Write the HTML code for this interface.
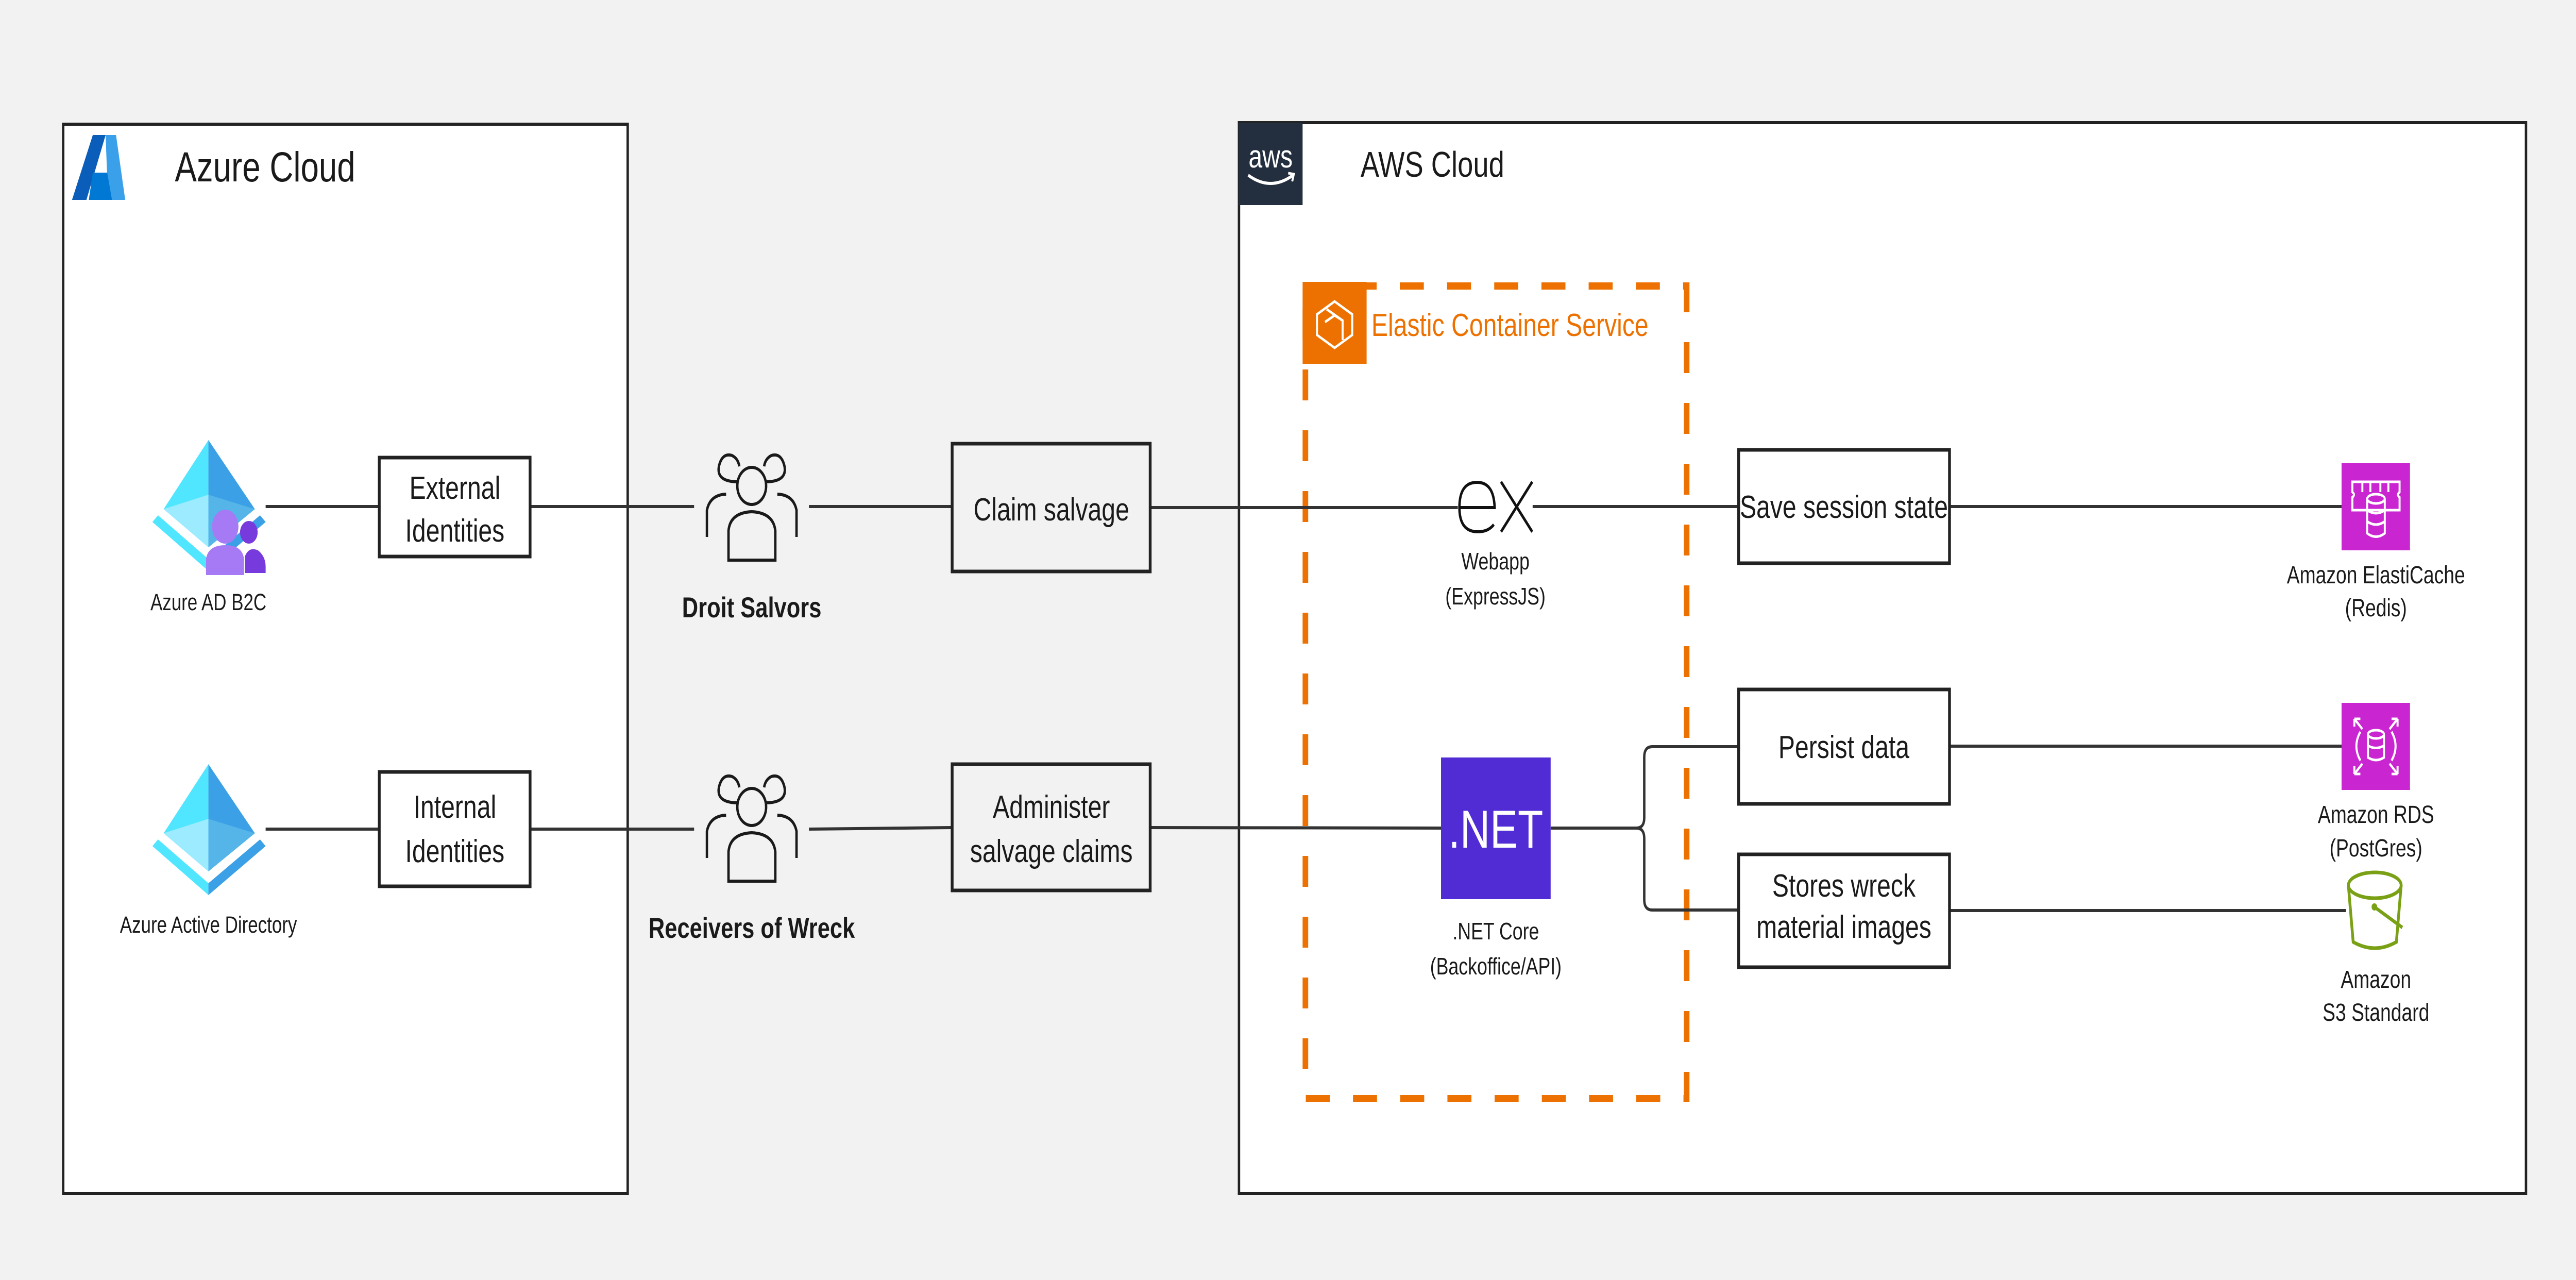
<!DOCTYPE html>
<html><head><meta charset="utf-8"><style>html,body{margin:0;padding:0;background:#f2f2f2;overflow:hidden;width:100%;height:100%}svg{display:block;position:absolute;left:0;top:0;width:100vw;height:100vh}text{font-family:"Liberation Sans",sans-serif;fill:#1a1a1a}</style></head><body>
<svg viewBox="0 0 6439 2484" preserveAspectRatio="none" xmlns="http://www.w3.org/2000/svg">
<rect width="6439" height="2484" fill="#f2f2f2"/>
<!-- Azure container -->
<rect x="158" y="241" width="1411" height="2075" fill="#fff" stroke="#222" stroke-width="6"/>
<polygon points="232,262 264,262 216,388 180,388" fill="#0a5db8"/>
<polygon points="264,262 290,262 313,388 270,388" fill="#3aa0ea"/>
<polygon points="232,335 268,335 280,388 222,388" fill="#0078d4"/>
<text x="437" y="352" font-size="82">Azure Cloud</text>
<!-- AWS container -->
<rect x="3097" y="238" width="3217" height="2078" fill="#fff" stroke="#222" stroke-width="6"/>
<rect x="3096" y="238" width="160" height="160" fill="#232f3e"/>
<text x="3176" y="325" font-size="62" text-anchor="middle" style="fill:#fff">aws</text>
<path d="M3120 340 Q3176 372 3232 340" stroke="#fff" stroke-width="6" fill="none"/>
<path d="M3220 336 L3234 338 L3230 352" stroke="#fff" stroke-width="5" fill="none"/>
<text x="3401" y="343" font-size="70">AWS Cloud</text>
<!-- ECS -->
<rect x="3263" y="555" width="953" height="1577" fill="none" stroke="#ED7100" stroke-width="14" stroke-dasharray="60 58"/>
<rect x="3256" y="547" width="160" height="159" fill="#ED7100"/>
<g stroke="#fff" stroke-width="5" fill="none"><polygon points="3336,585 3380,610 3380,650 3336,675 3292,650 3292,610"/><polyline points="3316,600 3356,622 3356,660"/><polyline points="3312,625 3336,612 3356,622"/></g>
<text x="3428" y="652" font-size="62" style="fill:#ED7100">Elastic Container Service</text>
<!-- connectors -->
<g stroke="#333" stroke-width="6" fill="none">
<line x1="664" y1="983" x2="948" y2="983"/><line x1="1325" y1="983" x2="1735" y2="983"/><line x1="2022" y1="983" x2="2380" y2="983"/><line x1="2875" y1="985" x2="3644" y2="985"/><line x1="3831" y1="983" x2="4346" y2="983"/><line x1="4873" y1="983" x2="5853" y2="983"/>
<line x1="664" y1="1609" x2="948" y2="1609"/><line x1="1325" y1="1609" x2="1735" y2="1609"/><line x1="2022" y1="1609" x2="2380" y2="1606"/><line x1="2875" y1="1606" x2="3602" y2="1607"/>
<path d="M3876 1607 H4090 Q4110 1607 4110 1587 V1469 Q4110 1449 4130 1449 H4346"/><path d="M4090 1607 Q4110 1607 4110 1627 V1746 Q4110 1766 4130 1766 H4346"/>
<line x1="4873" y1="1448" x2="5853" y2="1448"/><line x1="4873" y1="1767" x2="5864" y2="1767"/>
</g>
<!-- boxes -->
<g stroke="#222" stroke-width="7" fill="#fff">
<rect x="948" y="888" width="377" height="192"/><rect x="948" y="1498" width="377" height="222"/>
<rect x="2380" y="861" width="495" height="248" fill="#f2f2f2"/><rect x="2380" y="1483" width="495" height="245" fill="#f2f2f2"/>
<rect x="4346" y="873" width="527" height="220"/><rect x="4346" y="1338" width="527" height="222"/><rect x="4346" y="1658" width="527" height="219"/>
</g>
<g font-size="62" text-anchor="middle">
<text x="1137" y="968">External</text><text x="1137" y="1051">Identities</text>
<text x="1137" y="1587">Internal</text><text x="1137" y="1673">Identities</text>
<text x="2628" y="1010">Claim salvage</text>
<text x="2628" y="1587">Administer</text><text x="2628" y="1673">salvage claims</text>
<text x="4609" y="1005">Save session state</text>
<text x="4609" y="1471">Persist data</text>
<text x="4609" y="1740">Stores wreck</text><text x="4609" y="1820">material images</text>
</g>
<!-- Azure AD icons -->
<g>
<polygon points="521,854 409,988 521,1062" fill="#50e6ff"/>
<polygon points="521,854 637,988 521,1062" fill="#3ca0e6"/>
<polygon points="409,988 521,960 521,1062" fill="#9cebff"/>
<polygon points="637,988 521,960 521,1062" fill="#55b5e8"/>
<polygon points="381,1013 395,1000 521,1085 521,1108" fill="#50e6ff"/>
<polygon points="664,1013 650,1000 521,1085 521,1108" fill="#3ca0e6"/>
</g>
<g transform="translate(0,629)"><polygon points="521,854 409,988 521,1062" fill="#50e6ff"/><polygon points="521,854 637,988 521,1062" fill="#3ca0e6"/><polygon points="409,988 521,960 521,1062" fill="#9cebff"/><polygon points="637,988 521,960 521,1062" fill="#55b5e8"/><polygon points="381,1013 395,1000 521,1085 521,1108" fill="#50e6ff"/><polygon points="664,1013 650,1000 521,1085 521,1108" fill="#3ca0e6"/></g>
<circle cx="563" cy="1022" r="33" fill="#a67af4"/><path d="M515 1116 V1085 Q520 1058 563 1058 Q606 1058 610 1085 V1116 Z" fill="#a67af4"/>
<circle cx="622" cy="1033" r="22" fill="#773adc"/><path d="M612 1112 V1080 Q622 1060 645 1068 Q664 1080 664 1100 V1112 Z" fill="#773adc"/>
<g font-size="45" text-anchor="middle"><text x="521" y="1184">Azure AD B2C</text><text x="521" y="1810">Azure Active Directory</text></g>
<!-- people -->
<g stroke="#1a1a1a" stroke-width="6" fill="none">
<ellipse cx="1879" cy="943" rx="36" ry="36"/>
<path d="M1845 935 Q1790 935 1797 905 Q1805 878 1830 884 Q1845 890 1848 905"/>
<path d="M1913 935 Q1968 935 1961 905 Q1953 878 1928 884 Q1913 890 1910 905"/>
<path d="M1821 1087 V1030 Q1825 995 1879 993 Q1933 995 1938 1030 V1087 Z"/>
<path d="M1767 1042 V990 Q1775 960 1815 959"/><path d="M1991 1042 V990 Q1983 960 1943 959"/>
</g>
<g transform="translate(0,623)" stroke="#1a1a1a" stroke-width="6" fill="none"><ellipse cx="1879" cy="943" rx="36" ry="36"/><path d="M1845 935 Q1790 935 1797 905 Q1805 878 1830 884 Q1845 890 1848 905"/><path d="M1913 935 Q1968 935 1961 905 Q1953 878 1928 884 Q1913 890 1910 905"/><path d="M1821 1087 V1030 Q1825 995 1879 993 Q1933 995 1938 1030 V1087 Z"/><path d="M1767 1042 V990 Q1775 960 1815 959"/><path d="M1991 1042 V990 Q1983 960 1943 959"/></g>
<g font-size="56" font-weight="bold" text-anchor="middle"><text x="1879" y="1198">Droit Salvors</text><text x="1879" y="1820">Receivers of Wreck</text></g>
<!-- ex -->
<g stroke="#111" stroke-width="6" fill="none">
<path d="M3648 985 H3736 Q3734 936 3692 936 Q3648 936 3648 985 Q3648 1032 3694 1032 Q3720 1032 3734 1018"/>
<line x1="3752" y1="935" x2="3830" y2="1032"/><line x1="3830" y1="935" x2="3752" y2="1032"/>
</g>
<g font-size="46" text-anchor="middle"><text x="3738" y="1105">Webapp</text><text x="3738" y="1173">(ExpressJS)</text>
<text x="3739" y="1823">.NET Core</text><text x="3739" y="1891">(Backoffice/API)</text></g>
<rect x="3602" y="1470" width="274" height="275" fill="#512BD4"/>
<text x="3739" y="1645" font-size="104" text-anchor="middle" style="fill:#fff">.NET</text>
<!-- AWS services -->
<rect x="5853" y="899" width="171" height="169" fill="#C925D1"/>
<g stroke="#fff" stroke-width="5" fill="none"><path d="M5880 935 H5998 V955 Q5990 960 5998 965 V990 H5880 V965 Q5888 960 5880 955 Z"/><path d="M5905 935 V955 M5925 935 V955 M5950 935 V955 M5970 935 V955"/><ellipse cx="5939" cy="968" rx="22" ry="9"/><path d="M5917 968 V1035 Q5939 1048 5961 1035 V968 M5917 990 Q5939 1002 5961 990 M5917 1012 Q5939 1024 5961 1012"/></g>
<rect x="5853" y="1364" width="171" height="169" fill="#C925D1"/>
<g stroke="#fff" stroke-width="5" fill="none"><ellipse cx="5939" cy="1425" rx="20" ry="8"/><path d="M5919 1425 V1470 Q5939 1480 5959 1470 V1425 M5919 1447 Q5939 1456 5959 1447"/><path d="M5900 1420 Q5880 1448 5900 1476 M5978 1420 Q5998 1448 5978 1476"/><path d="M5885 1395 L5905 1415 M5885 1395 V1410 M5885 1395 H5900 M5993 1395 L5973 1415 M5993 1395 V1410 M5993 1395 H5978 M5885 1502 L5905 1482 M5885 1502 V1487 M5885 1502 H5900 M5993 1502 L5973 1482 M5993 1502 V1487 M5993 1502 H5978"/></g>
<g stroke="#7AA116" stroke-width="7" fill="none"><ellipse cx="5936" cy="1718" rx="66" ry="25"/><path d="M5870 1718 L5882 1828 Q5936 1852 5990 1828 L6002 1718"/><path d="M5935 1760 L6005 1800"/></g>
<circle cx="5935" cy="1760" r="7" fill="#7AA116"/>
<g font-size="48" text-anchor="middle"><text x="5939" y="1132">Amazon ElastiCache</text><text x="5939" y="1196">(Redis)</text>
<text x="5939" y="1597">Amazon RDS</text><text x="5939" y="1662">(PostGres)</text>
<text x="5939" y="1917">Amazon</text><text x="5939" y="1981">S3 Standard</text></g>
</svg>
</body></html>
